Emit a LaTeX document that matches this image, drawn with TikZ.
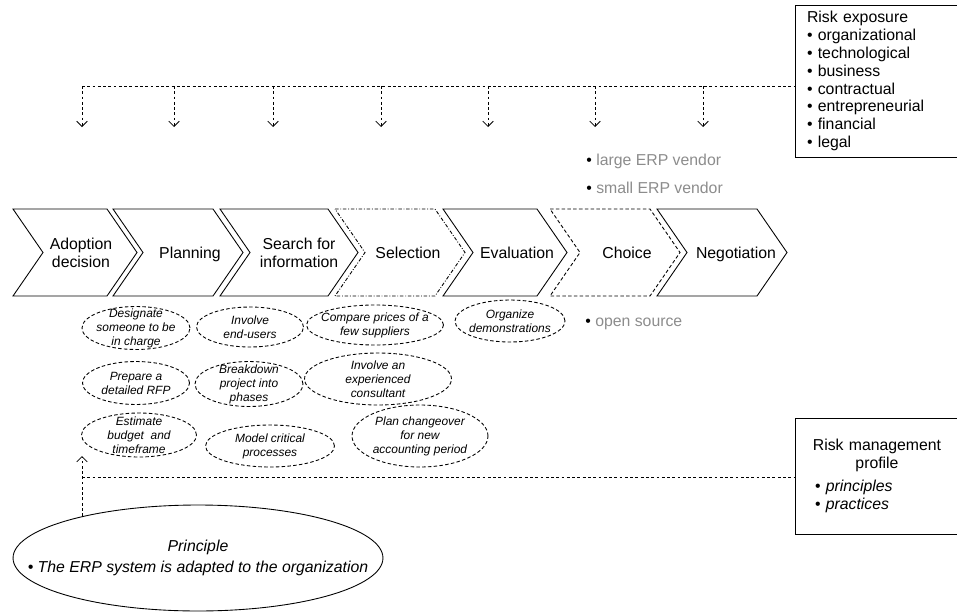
\documentclass[tikz,border=0pt]{standalone}
\usepackage{fontspec}
\setmainfont{Liberation Sans}
\usetikzlibrary{arrows.meta,shapes.geometric,positioning,calc}

\tikzset{
	>={Straight Barb[length=3pt,width=6pt]},
	stage/.style={draw, line width=0.5pt, line join=miter},
	stagetext/.style={align=center, inner sep=0pt, font=\fontsize{9}{10.2}\selectfont},
	task/.style={ellipse, draw, dash pattern=on 2pt off 1.3pt, line width=0.5pt, inner xsep=-4pt, inner ysep=-5pt, align=center, font=\fontsize{6.8}{8}\selectfont\itshape},
	riskbox/.style={draw, line width=0.5pt, inner ysep=0pt, font=\fontsize{9}{10.2}\selectfont},
	link/.style={dash pattern=on 1.6pt off 1.4pt, line width=0.5pt},
	option/.style={anchor=west, inner sep=0pt, font=\fontsize{9}{10.2}\selectfont, text=black!45},
}

\begin{document}
\begin{tikzpicture}[x=0.02cm, y=-0.02cm]
	\useasboundingbox (0,0) rectangle (957,612);

	% risk exposure and its links to the stages
	\node[riskbox, text width=2.8cm, inner xsep=0.24cm, minimum height=3.04cm, align=left] (rexp) at (877,81)
		{Risk exposure\\\textbullet\ organizational\\\textbullet\ technological\\\textbullet\ business\\\textbullet\ contractual\\\textbullet\ entrepreneurial\\\textbullet\ financial\\\textbullet\ legal};
	\coordinate (top) at (82,86);
	\draw[link] (top) -- (top -| rexp.west);
	\foreach \x [count=\i] in {82,174,273,381,488,595,703}{
		\coordinate (drop\i) at (\x,127);
		\draw[link,->] (drop\i |- top) -- (drop\i);
	}

	% vendor options
	\node[option] (large) at (586,161) {\textcolor{black}{\textbullet}\ large ERP vendor};
	\node[option] (small) at (586,188) {\textcolor{black}{\textbullet}\ small ERP vendor};
	\node[option] (open) at (585,324) {\textcolor{black}{\textbullet}\ open source};

	% stages
	\draw[stage] (13,209) -- ++(94,0) -- ++(30,43.5) -- ++(-30,43.5) -- ++(-94,0) -- ++(30,-43.5) -- cycle;
	\node[stagetext] (adopt) at (81,253) {Adoption\\decision};
	\draw[stage] (113,209) -- ++(100,0) -- ++(30,43.5) -- ++(-30,43.5) -- ++(-100,0) -- ++(30,-43.5) -- cycle;
	\node[stagetext] (plan) at (190,254.5) {Planning};
	\draw[stage] (220,209) -- ++(108,0) -- ++(30,43.5) -- ++(-30,43.5) -- ++(-108,0) -- ++(30,-43.5) -- cycle;
	\node[stagetext] (search) at (299,253) {Search for\\information};
	\draw[stage, dash pattern=on 2pt off 1pt on 0.5pt off 1pt] (335,209) -- ++(100,0) -- ++(30,43.5) -- ++(-30,43.5) -- ++(-100,0) -- ++(30,-43.5) -- cycle;
	\node[stagetext] (select) at (408,253) {Selection};
	\draw[stage] (443,209) -- ++(94,0) -- ++(30,43.5) -- ++(-30,43.5) -- ++(-94,0) -- ++(30,-43.5) -- cycle;
	\node[stagetext] (eval) at (517,253) {Evaluation};
	\draw[stage, dash pattern=on 2pt off 1.3pt] (550,209) -- ++(100,0) -- ++(30,43.5) -- ++(-30,43.5) -- ++(-100,0) -- ++(30,-43.5) -- cycle;
	\node[stagetext] (choice) at (627,253) {Choice};
	\draw[stage] (657,209) -- ++(100,0) -- ++(30,43.5) -- ++(-30,43.5) -- ++(-100,0) -- ++(30,-43.5) -- cycle;
	\node[stagetext] (nego) at (736,254.5) {Negotiation};

	% practices
	\node[task, minimum width=2.16cm, minimum height=0.86cm] (incharge) at (136,328) {Designate\\someone to be\\in charge};
	\node[task, minimum width=2.14cm, minimum height=0.80cm] (endusers) at (250,327) {Involve\\end-users};
	\node[task, minimum width=2.74cm, minimum height=0.80cm] (prices) at (375,325) {Compare prices of a\\few suppliers};
	\node[task, minimum width=2.20cm, minimum height=0.84cm] (demo) at (510,321) {Organize\\demonstrations};
	\node[task, minimum width=2.14cm, minimum height=0.86cm] (rfp) at (136,383) {Prepare a\\detailed RFP};
	\node[task, minimum width=2.16cm, minimum height=0.90cm] (phases) at (249,384) {Breakdown\\project into\\phases};
	\node[task, minimum width=2.94cm, minimum height=1.04cm] (consult) at (378,379) {Involve an\\experienced\\consultant};
	\node[task, minimum width=2.30cm, minimum height=0.88cm] (budget) at (139,435) {Estimate\\budget~ and\\timeframe};
	\node[task, minimum width=2.58cm, minimum height=0.84cm] (model) at (270,446) {Model critical\\processes};
	\node[task, minimum width=2.72cm, minimum height=1.24cm] (changeover) at (420,436) {Plan changeover\\for new\\accounting period};

	% risk management profile and principle
	\node[riskbox, text width=2.88cm, inner xsep=0.2cm, minimum height=2.32cm] (rmp) at (877,476)
		{{\centering Risk management\\profile\par}\vspace{3pt}{\raggedright\hspace*{0.2cm}\textbullet\ \textit{principles}\\\hspace*{0.2cm}\textbullet\ \textit{practices}\par}\vspace{0.28cm}};
	\node[ellipse, draw, line width=0.5pt, minimum width=7.4cm, minimum height=2.12cm, inner xsep=-0.95cm, inner ysep=0pt, align=center, font=\fontsize{9}{12}\selectfont\itshape] (prin) at (198,558)
		{Principle\\\textbullet\ The ERP system is adapted to the organization};
	\coordinate (base) at (82,477);
	\coordinate (up) at (82,456);
	\draw[link] (base) -- (base -| rmp.west);
	\draw[link,->] (up |- prin.160) -- (up);
\end{tikzpicture}
\end{document}
